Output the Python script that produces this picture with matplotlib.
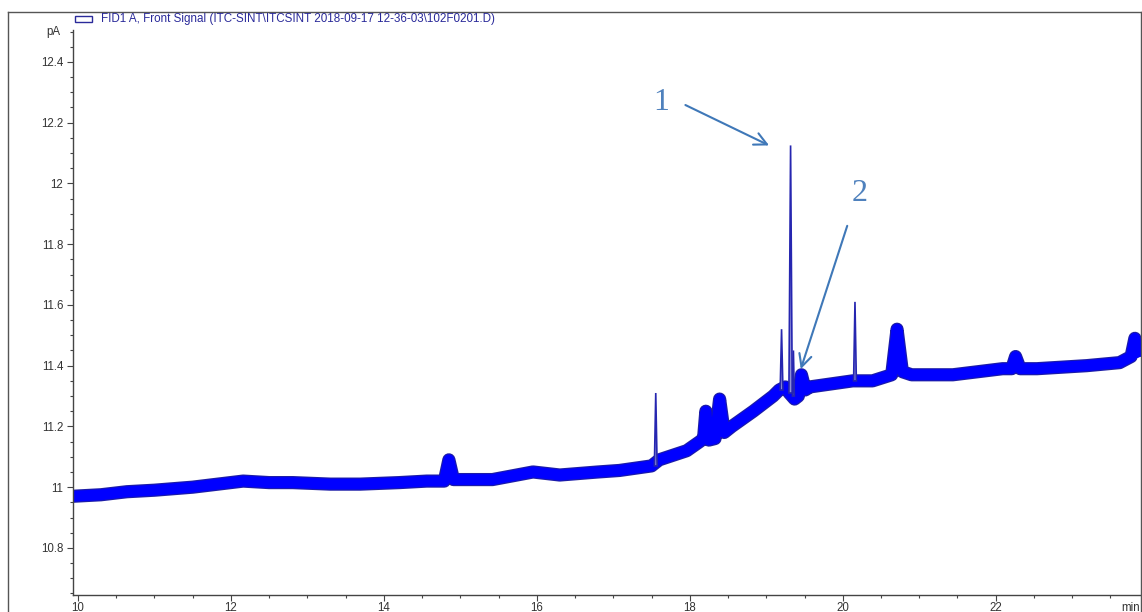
import matplotlib
matplotlib.use("Agg")
import matplotlib.pyplot as plt
from matplotlib.ticker import MultipleLocator, FuncFormatter
from matplotlib.lines import Line2D
from matplotlib.patches import Rectangle

plt.rcParams['font.family'] = ['Liberation Sans', 'DejaVu Sans']

# baseline trace of the FID signal (time in min, signal in pA)
base_t = [9.93, 10.3, 10.64, 11.0, 11.5, 12.16, 12.5, 12.81, 13.3, 13.69, 14.2, 14.56,
          14.79, 14.85, 14.91, 15.42, 15.95, 16.3, 16.8, 17.08, 17.5, 17.6, 17.96, 18.13,
          18.18, 18.21, 18.25, 18.33, 18.39, 18.45, 18.55, 18.83, 19.09, 19.17, 19.25,
          19.30, 19.37, 19.42, 19.46, 19.51, 19.57, 20.13, 20.39, 20.64, 20.71, 20.78,
          20.9, 21.44, 22.09, 22.21, 22.26, 22.32, 22.54, 23.19, 23.62, 23.77, 23.82,
          23.87, 23.9]
base_v = [10.97, 10.975, 10.985, 10.99, 11.0, 11.02, 11.015, 11.015, 11.01, 11.01, 11.015, 11.02,
          11.02, 11.09, 11.025, 11.025, 11.05, 11.04, 11.05, 11.055, 11.07, 11.09, 11.12, 11.15,
          11.16, 11.25, 11.155, 11.16, 11.29, 11.18, 11.2, 11.25, 11.30, 11.32, 11.33,
          11.31, 11.29, 11.3, 11.37, 11.32, 11.33, 11.35, 11.35, 11.37, 11.52, 11.38,
          11.37, 11.37, 11.39, 11.39, 11.43, 11.39, 11.39, 11.40, 11.41, 11.43, 11.49,
          11.45, 11.43]

# narrow spikes: apex time, apex value, foot value, half width
spike_t = [17.555, 19.20, 19.318, 19.355, 20.16]
spike_top = [11.31, 11.52, 12.125, 11.45, 11.61]
spike_foot = [11.07, 11.32, 11.31, 11.30, 11.35]
spike_w = [0.018, 0.018, 0.022, 0.012, 0.018]

title = r"FID1 A, Front Signal (ITC-SINT\ITCSINT 2018-09-17 12-36-03\102F0201.D)"

fig = plt.figure(figsize=(11.42, 6.12), dpi=100)
ax = fig.add_axes([73 / 1142, 17 / 612, (1141 - 73) / 1142, (582 - 17) / 612])

# noisy band: darker rim under a bright blue core
ax.plot(base_t, base_v, color='#1c1ca8', lw=9.5, solid_joinstyle='round', solid_capstyle='butt', zorder=2)
ax.plot(base_t, base_v, color='#0000ff', lw=7.8, solid_joinstyle='round', solid_capstyle='butt', zorder=2)
for t, top, foot, w in zip(spike_t, spike_top, spike_foot, spike_w):
    ax.fill([t - w, t, t + w], [foot, top, foot], facecolor='#8f8fd8',
            edgecolor='#2626b0', lw=1.2, zorder=3)

ax.set_xlim(9.935, 23.9)
ax.set_ylim(10.645, 12.505)
ax.xaxis.set_major_locator(MultipleLocator(2))
ax.xaxis.set_minor_locator(MultipleLocator(0.5))
ax.yaxis.set_major_locator(MultipleLocator(0.2))
ax.yaxis.set_minor_locator(MultipleLocator(0.05))
ax.yaxis.set_major_formatter(FuncFormatter(lambda v, p: '%g' % round(v, 2)))
ax.xaxis.set_major_formatter(FuncFormatter(lambda v, p: '%g' % v if v <= 22 else ''))
for s in ['top', 'right']:
    ax.spines[s].set_visible(False)
for s in ['left', 'bottom']:
    ax.spines[s].set_color('#444444')
    ax.spines[s].set_linewidth(1)
ax.tick_params(which='major', direction='out', length=4, width=0.8, colors='#444444',
               labelsize=8.3, labelcolor='#333333')
ax.tick_params(which='minor', direction='out', length=2.5, width=0.8, colors='#444444')
ax.tick_params(axis='x', pad=1)
ax.tick_params(axis='y', pad=3)

ax.text(-0.012, 12.5, 'pA', transform=ax.get_yaxis_transform(), ha='right', va='center',
        fontsize=8.3, color='#333333')
ax.annotate('min', xy=(1, 0), xycoords='axes fraction', xytext=(-1, -5),
            textcoords='offset points', ha='right', va='top', fontsize=8.3, color='#333333')

# legend line at the top
fig.patches.append(Rectangle((75 / 1142, 1 - 22 / 612), 17 / 1142, 6 / 612,
                             transform=fig.transFigure, fill=False, edgecolor='#2a2a9a', lw=1))
fig.text(101 / 1142, 1 - 19 / 612, title, ha='left', va='center', fontsize=8.4, color='#2a2a9a')

# outer frame
fig.add_artist(Line2D([8 / 1142, 8 / 1142], [0, 1 - 12 / 612], transform=fig.transFigure,
                      color='#555555', lw=1))
fig.add_artist(Line2D([8 / 1142, 1140.5 / 1142], [1 - 12 / 612, 1 - 12 / 612],
                      transform=fig.transFigure, color='#555555', lw=1))
fig.add_artist(Line2D([1140.5 / 1142, 1140.5 / 1142], [0, 1 - 12 / 612],
                      transform=fig.transFigure, color='#555555', lw=1))

# peak labels
note = '#4f81bd'
ax.text(17.63, 12.266, '1', fontsize=23, family=['Liberation Serif'], color=note,
        ha='center', va='center')
ax.annotate('', xy=(19.07, 12.121), xytext=(17.91, 12.262),
            arrowprops=dict(arrowstyle='->,head_length=0.9,head_width=0.45', color='#3f78b8', lw=1.5))
ax.text(20.22, 11.967, '2', fontsize=23, family=['Liberation Serif'], color=note,
        ha='center', va='center')
ax.annotate('', xy=(19.44, 11.38), xytext=(20.07, 11.869),
            arrowprops=dict(arrowstyle='->,head_length=0.9,head_width=0.45', color='#3f78b8', lw=1.5))

fig.savefig('out.png', dpi=100)
